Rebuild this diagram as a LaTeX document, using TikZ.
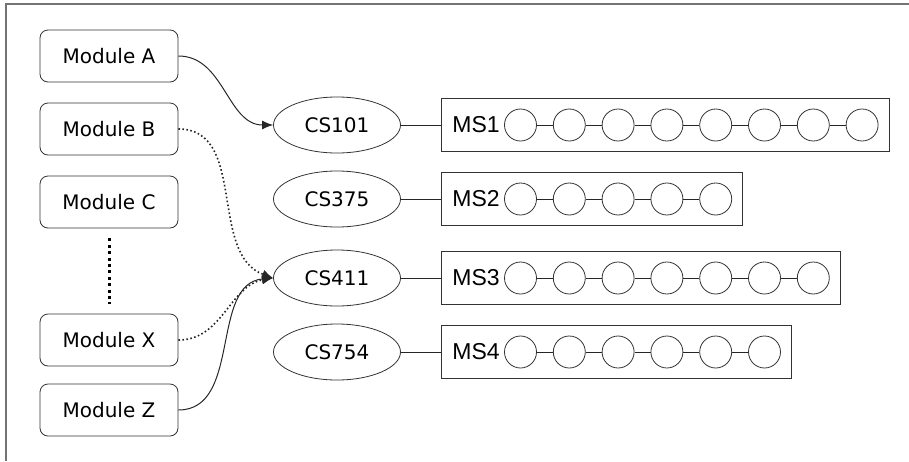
\documentclass[tikz,border=0pt]{standalone}
\usepackage{fontspec}
\setmainfont{DejaVu Sans}
\newfontfamily\msfont{Liberation Sans}
\usetikzlibrary{positioning,shapes.geometric,fit,arrows.meta}

\tikzset{
  modbox/.style={draw=black!80, rounded corners=4pt, minimum width=69pt, minimum height=26pt},
  csnode/.style={draw=black!80, ellipse, minimum width=63.5pt, minimum height=28pt},
  slot/.style={draw=black!80, circle, minimum size=16pt, inner sep=0pt},
  mslabel/.style={font=\msfont\fontsize{11.5}{12}\selectfont, inner sep=0pt, anchor=west},
  msbox/.style={draw=black!80, inner sep=5.2pt},
  link/.style={draw=black!85, line width=0.5pt},
  dotlink/.style={link, line width=0.8pt, dash pattern=on 0.8pt off 1.2pt},
  tip/.style={-{Latex[length=5.5pt,width=4.5pt]}}
}

\begin{document}
\begin{tikzpicture}[x=0.5pt,y=-0.5pt]
\useasboundingbox (0,0) rectangle (909,461);

% Rahmen
\draw[black!55, line width=0.7pt] (6,461) -- (6,4) -- (909,4);

% Module
\node[modbox] (modA) at (109,56) {Module A};
\node[modbox] (modB) at (109,129) {Module B};
\node[modbox] (modC) at (109,202) {Module C};
\node[modbox] (modX) at (109,340) {Module X};
\node[modbox] (modZ) at (109,410) {Module Z};

\draw[black, line width=1.5pt, dash pattern=on 1.5pt off 1.7pt,
  shorten <=5pt, shorten >=5pt]
(modC) -- (modX);

% Kurse
\node[csnode] (cs1) at (337,125) {CS101};
\node[csnode] (cs2) at (337,199) {CS375};
\node[csnode] (cs3) at (337,278) {CS411};
\node[csnode] (cs4) at (337,352) {CS754};

% Reihen
\foreach \r/\y/\n in {1/125/8, 2/199/5, 3/278/7, 4/352/6}
{
  \node[mslabel] (ms\r) at (452,\y) {MS\r};
  \node[slot, right=2pt of ms\r] (ms\r-1) {};
  \foreach \i [remember=\i as \p (initially 1)] in {2,...,\n}
  {
    \node[slot, right=8pt of ms\r-\p] (ms\r-\i) {};
    \draw[link] (ms\r-\p) -- (ms\r-\i);
  }
  \node[msbox, fit=(ms\r)(ms\r-1)(ms\r-\n)] (box\r) {};
  \draw[link] (cs\r) -- (box\r);
}

% Zuordnung
\draw[link, tip] (modA.east) to[out=0,in=180] (cs1.west);
\draw[dotlink, tip] (modB.east) to[out=0,in=160] (cs3.west);
\draw[dotlink, tip] (modX.east) to[out=0,in=190] (cs3.west);
\draw[link, tip] (modZ.east) to[out=0,in=185] (cs3.west);

\end{tikzpicture}
\end{document}
